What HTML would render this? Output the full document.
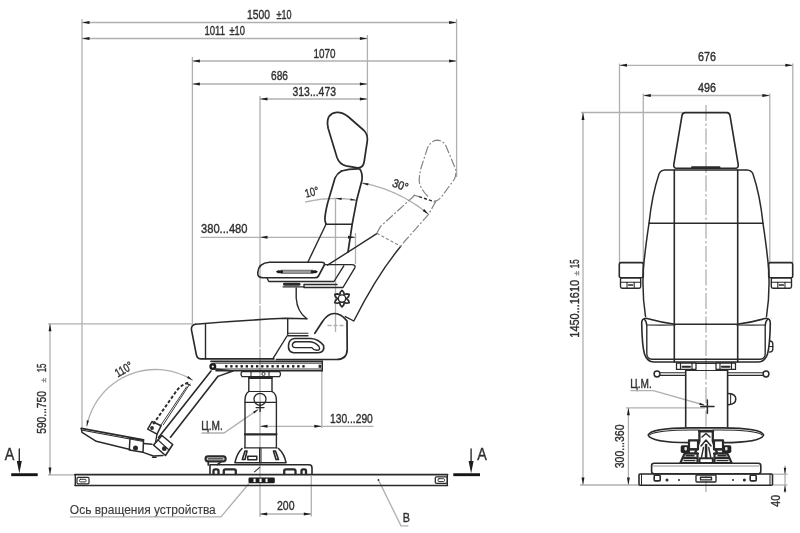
<!DOCTYPE html>
<html><head><meta charset="utf-8"><title>Chair drawing</title>
<style>
html,body{margin:0;padding:0;background:#fff;}
body{width:800px;height:533px;overflow:hidden;font-family:"Liberation Sans",sans-serif;}
svg{display:block;}
svg text{font-family:"Liberation Sans",sans-serif;fill:#303030;stroke:#303030;stroke-width:0.38;}
.d{stroke:#2a2a2a;stroke-width:1.4;fill:none;stroke-linecap:round;stroke-linejoin:round;}
.dd{stroke:#2a2a2a;stroke-width:1.4;fill:none;stroke-dasharray:3.2 2;}
.t{stroke:#b0b0b0;stroke-width:1.3;fill:none;}
.ph{stroke:#858585;stroke-width:1.2;fill:none;stroke-dasharray:9 2 2 2;}
.ar{fill:#1e1e1e;stroke:none;}
</style></head>
<body>
<svg width="800" height="533" viewBox="0 0 800 533">
<rect x="0" y="0" width="800" height="533" fill="#ffffff"/>
<g filter="url(#soft)">
<g id="dimsL">
<line class="t" x1="82" y1="19" x2="82" y2="428.5" />
<line class="t" x1="456.6" y1="19" x2="456.6" y2="177" />
<line class="t" x1="367.4" y1="35" x2="367.4" y2="136" />
<line class="t" x1="192.4" y1="57" x2="192.4" y2="324" />
<line class="t" x1="260" y1="96" x2="260" y2="262" />
<line style="stroke-dasharray:42 1.5" class="t" x1="260" y1="262" x2="260" y2="517"/>
<line class="t" x1="82" y1="22.5" x2="456.6" y2="22.5" />
<polygon class="ar" points="82.00,22.50 89.50,21.05 89.50,23.95"/>
<polygon class="ar" points="456.60,22.50 449.10,23.95 449.10,21.05"/>
<text x="247" y="18.7" font-size="13" text-anchor="start" textLength="23" lengthAdjust="spacingAndGlyphs" >1500</text>
<text x="276.5" y="18.7" font-size="13" text-anchor="start" textLength="15" lengthAdjust="spacingAndGlyphs" >±10</text>
<line class="t" x1="82" y1="38.5" x2="367.4" y2="38.5" />
<polygon class="ar" points="82.00,38.50 89.50,37.05 89.50,39.95"/>
<polygon class="ar" points="367.40,38.50 359.90,39.95 359.90,37.05"/>
<text x="204.5" y="35.0" font-size="13" text-anchor="start" textLength="20.5" lengthAdjust="spacingAndGlyphs" >1011</text>
<text x="229.5" y="35.0" font-size="13" text-anchor="start" textLength="15.5" lengthAdjust="spacingAndGlyphs" >±10</text>
<line class="t" x1="192.4" y1="61" x2="456.6" y2="61" />
<polygon class="ar" points="192.40,61.00 199.90,59.55 199.90,62.45"/>
<polygon class="ar" points="456.60,61.00 449.10,62.45 449.10,59.55"/>
<text x="313.5" y="57.5" font-size="13" text-anchor="start" textLength="22" lengthAdjust="spacingAndGlyphs" >1070</text>
<line class="t" x1="192.4" y1="84" x2="367.4" y2="84" />
<polygon class="ar" points="192.40,84.00 199.90,82.55 199.90,85.45"/>
<polygon class="ar" points="367.40,84.00 359.90,85.45 359.90,82.55"/>
<text x="271" y="80.4" font-size="13" text-anchor="start" textLength="17" lengthAdjust="spacingAndGlyphs" >686</text>
<line class="t" x1="260" y1="99" x2="367.4" y2="99" />
<polygon class="ar" points="260.00,99.00 267.50,97.55 267.50,100.45"/>
<polygon class="ar" points="367.40,99.00 359.90,100.45 359.90,97.55"/>
<text x="292.5" y="96.2" font-size="13" text-anchor="start" textLength="43.5" lengthAdjust="spacingAndGlyphs" >313...473</text>
<line class="t" x1="200.5" y1="237.3" x2="355.5" y2="237.3" />
<polygon class="ar" points="260.00,237.30 267.50,235.85 267.50,238.75"/>
<polygon class="ar" points="355.50,237.30 348.00,238.75 348.00,235.85"/>
<text x="201" y="233.4" font-size="13" text-anchor="start" textLength="46.5" lengthAdjust="spacingAndGlyphs" >380...480</text>
<line class="t" x1="335.5" y1="199" x2="335.5" y2="332" />
<line class="t" x1="355.5" y1="233" x2="355.5" y2="264" />
<path class="t" d="M305.00 202.22 L307.11 201.71 L309.23 201.25 L311.36 200.82 L313.49 200.42 L315.64 200.06 L317.78 199.74 L319.93 199.46 L322.09 199.21 L324.25 199.00 L326.42 198.83 L328.58 198.69 L330.75 198.59 L332.92 198.53 L335.09 198.50 L337.26 198.51 L339.43 198.56 L341.60 198.65 L343.77 198.77 L345.93 198.93 L348.10 199.13 L350.25 199.36 L352.41 199.63 L354.56 199.94 L356.70 200.28" />
<polygon class="ar" points="335.60,198.60 341.63,197.71 341.56,199.91"/>
<polygon class="ar" points="356.40,200.30 350.31,200.55 350.61,198.38"/>
<text x="306" y="197.8" font-size="12" text-anchor="start" textLength="14" lengthAdjust="spacingAndGlyphs" transform="rotate(-14 306 197.8)" >10°</text>
<path class="t" d="M361.77 182.90 L364.81 183.49 L367.84 184.15 L370.86 184.88 L373.86 185.67 L376.84 186.52 L379.81 187.44 L382.75 188.41 L385.67 189.46 L388.57 190.56 L391.45 191.73 L394.29 192.95 L397.12 194.24 L399.91 195.59 L402.67 197.00 L405.41 198.46 L408.11 199.99 L410.78 201.57 L413.41 203.21 L416.01 204.90 L418.57 206.65 L421.09 208.46 L423.58 210.32 L426.02 212.23 L428.42 214.19" />
<polygon class="ar" points="361.90,183.20 368.51,183.20 368.08,185.56"/>
<polygon class="ar" points="428.42,214.19 422.67,210.95 424.20,209.10"/>
<text x="391.5" y="186.2" font-size="12" text-anchor="start" textLength="16" lengthAdjust="spacingAndGlyphs" transform="rotate(20 391.5 186.2)" >30°</text>
<line class="t" x1="48" y1="323.8" x2="192.4" y2="323.8" />
<line class="t" x1="48" y1="474.9" x2="75" y2="474.9" />
<line class="t" x1="50" y1="323.8" x2="50" y2="474.9" />
<polygon class="ar" points="50.00,323.80 51.45,331.30 48.55,331.30"/>
<polygon class="ar" points="50.00,474.90 48.55,467.40 51.45,467.40"/>
<text x="45.7" y="433.8" font-size="13" text-anchor="start" textLength="42.8" lengthAdjust="spacingAndGlyphs" transform="rotate(-90 45.7 433.8)" >590...750</text>
<text x="45.7" y="382.5" font-size="8" text-anchor="start" textLength="4.5" lengthAdjust="spacingAndGlyphs" transform="rotate(-90 45.7 382.5)" style="fill:#888;stroke:#888">±</text>
<text x="45.7" y="372.3" font-size="13" text-anchor="start" textLength="8.8" lengthAdjust="spacingAndGlyphs" transform="rotate(-90 45.7 372.3)" >15</text>
<path class="t" d="M86.73 426.45 L88.01 420.93 L89.73 415.53 L91.89 410.29 L94.46 405.23 L97.43 400.41 L100.79 395.84 L104.50 391.56 L108.54 387.59 L112.90 383.96 L117.53 380.69 L122.41 377.81 L127.51 375.34 L132.79 373.28 L138.23 371.66 L143.77 370.49 L149.39 369.77 L155.05 369.50 L160.72 369.69 L166.35 370.35 L171.91 371.45 L177.36 373.00 L182.67 374.99 L187.80 377.40 L192.72 380.21" />
<polygon class="ar" points="86.73,426.45 86.77,420.35 88.93,420.76"/>
<polygon class="ar" points="192.72,380.21 187.05,377.96 188.22,376.09"/>
<text x="117.8" y="377.5" font-size="12" text-anchor="start" textLength="18.5" lengthAdjust="spacingAndGlyphs" transform="rotate(-30 117.8 377.5)" >110°</text>
<line class="t" x1="260" y1="426.3" x2="373.5" y2="426.3" />
<polygon class="ar" points="260.00,426.30 267.50,424.85 267.50,427.75"/>
<polygon class="ar" points="321.80,426.30 314.30,427.75 314.30,424.85"/>
<line class="t" x1="321.8" y1="371" x2="321.8" y2="428" />
<text x="330" y="422.6" font-size="13" text-anchor="start" textLength="42.8" lengthAdjust="spacingAndGlyphs" >130...290</text>
<line class="t" x1="259.7" y1="514" x2="311.3" y2="514" />
<polygon class="ar" points="259.70,514.00 267.20,512.55 267.20,515.45"/>
<polygon class="ar" points="311.30,514.00 303.80,515.45 303.80,512.55"/>
<line class="t" x1="311.3" y1="476" x2="311.3" y2="516.5" />
<text x="277" y="510.0" font-size="13" text-anchor="start" textLength="17.5" lengthAdjust="spacingAndGlyphs" >200</text>
<text x="201.3" y="429.8" font-size="13" text-anchor="start" textLength="21.5" lengthAdjust="spacingAndGlyphs" >Ц.М.</text>
<path class="t" d="M201.5 433 L224 433 L258 409.6" />
<polygon class="ar" points="258.60,409.20 254.32,413.54 253.05,411.74"/>
<line style="stroke-width:1.38" class="d" x1="256.2" y1="407.6" x2="264" y2="407.6"/>
<line style="stroke-width:1.38" class="d" x1="260.1" y1="403.8" x2="260.1" y2="411.5"/>
<text x="69.8" y="513.5" font-size="12.5" text-anchor="start" textLength="146" lengthAdjust="spacingAndGlyphs" style="stroke-width:0.12;fill:#3a3a3a">Ось вращения устройства</text>
<path class="t" d="M69.8 516.8 L221 516.8 L249 483.5" />
<path class="t" d="M378.4 479.9 L401 525.8 L408.5 525.8" />
<circle cx="378.4" cy="479.9" r="0.9" fill="#2a2a2a"/>
<text x="402.8" y="522.2" font-size="13" text-anchor="start" textLength="7.2" lengthAdjust="spacingAndGlyphs" >B</text>
<text x="4.8" y="460.2" font-size="16" text-anchor="start" textLength="9.6" lengthAdjust="spacingAndGlyphs" >A</text>
<line style="stroke-width:2.88;stroke:#161616;stroke-linecap:butt" class="d" x1="11.2" y1="474.7" x2="37.7" y2="474.7"/>
<line style="stroke-width:1.38" class="d" x1="19.3" y1="449" x2="19.3" y2="465"/>
<polygon class="ar" points="19.30,473.40 16.80,460.90 21.80,460.90"/>
<text x="477.2" y="460.2" font-size="16" text-anchor="start" textLength="9.6" lengthAdjust="spacingAndGlyphs" >A</text>
<line style="stroke-width:2.88;stroke:#161616;stroke-linecap:butt" class="d" x1="453.3" y1="474.7" x2="480" y2="474.7"/>
<line style="stroke-width:1.38" class="d" x1="471.1" y1="449" x2="471.1" y2="465"/>
<polygon class="ar" points="471.10,473.40 468.60,460.90 473.60,460.90"/>
</g>
<g id="chairL">
<path style="stroke-width:1.72" class="d" d="M327.5 124 Q327 113.5 336.5 112.3 Q342.5 112 348 116.5 L364 130.5 Q368 134.5 367.3 141 L364.2 161.5 Q363.2 168.2 357.5 167.8 L346 165.8 Q339.5 164.5 337 157.5 L328.2 128.5 Z"/>
<path style="stroke-width:1.72" class="d" d="M341.5 171 Q350 168.6 359.8 169 Q362.6 173 362 180 L356.8 199.8 L352.2 224.2 L348 252"/>
<path style="stroke-width:1.72" class="d" d="M341.5 171 Q337 173.5 335 178 L327.5 203.5 Q324.5 216 325 220.5 L326 224.2"/>
<line class="d" x1="326" y1="224.2" x2="352.2" y2="224.2" />
<line class="d" x1="326" y1="224.2" x2="307.8" y2="262.3" />
<line class="d" x1="377.2" y1="233.4" x2="327.5" y2="265.2" />
<path class="d" d="M400.6 246.5 Q377 275 353.8 321 L345.3 316.6" />
<path class="ph" d="M415 195 L380.5 226.5 L376.8 233.3" />
<path class="ph" d="M436 201 L428.5 214.5 L404.5 241.5 L400.6 246.5" />
<line style="stroke:#8a8a8a;stroke-width:1.15" class="dd" x1="376.8" y1="233.3" x2="400.7" y2="246.2"/>
<line class="ph" x1="413.5" y1="195" x2="419" y2="196.6" />
<line class="dd" x1="419" y1="196.6" x2="434.5" y2="201.8" />
<path class="ph" d="M428 196.5 Q421 190 419.3 182 Q419 176 421 168 L427.5 148 Q431 140.5 437 140.2 Q443 140.5 446 146 L455.7 169.5 Q456.5 174.5 454.5 179 L441 197.5 Q437.5 201.5 434 201" />
<path style="stroke-width:1.61" class="d" d="M257.8 272.5 Q258.5 263 269.5 262.3 L321.5 262.3 Q325.5 262.3 324.3 265 L318.5 276 Q317.6 277.8 315 277.8 L263 277.8 Q257 277.5 257.8 272.5 Z"/>
<path class="d" d="M267 278 L268.8 281.5 L334 281.5 L343.8 265.8" />
<line style="stroke-width:3.45;stroke:#9c9c9c;stroke-linecap:butt" class="d" x1="281" y1="271.8" x2="313" y2="271.8"/>
<line style="stroke-width:0.69;stroke:#555" class="d" x1="281" y1="270.2" x2="313" y2="270.2"/>
<line style="stroke-width:0.69;stroke:#555" class="d" x1="281" y1="273.4" x2="313" y2="273.4"/>
<polygon class="ar" points="275.8,271.8 278,270.3 283,270.6 283,273 278,273.3"/>
<polygon class="ar" points="318,271.8 315.8,270.3 310.8,270.6 310.8,273 315.8,273.3"/>
<path class="d" d="M324.5 264.6 L351.5 264.6 Q356.2 264.8 354.8 267.8 L343 287.5 L304 287.5 L304 284.5 L337 284.5" />
<line style="stroke-width:2.99;stroke-linecap:round" class="d" x1="284.5" y1="284.3" x2="299" y2="284.3"/>
<line style="stroke-width:1.15" class="d" x1="283" y1="286.8" x2="304" y2="286.8"/>
<path class="d" d="M296.2 288 L296.2 298 Q297 311.5 306.8 318.8" />
<path style="stroke-width:1.72" class="d" d="M342.0 290.3 L343.71 292.22 L344.25 294.7 L346.67 293.93 L349.19 294.45 L348.38 296.89 L346.5 298.6 L348.38 300.31 L349.19 302.75 L346.67 303.27 L344.25 302.5 L343.71 304.98 L342.0 306.9 L340.29 304.98 L339.75 302.5 L337.33 303.27 L334.81 302.75 L335.62 300.31 L337.5 298.6 L335.62 296.89 L334.81 294.45 L337.33 293.93 L339.75 294.7 L340.29 292.22 Z"/>
<circle style="stroke-width:1.38" class="d" cx="342" cy="298.6" r="3.7"/>
<path style="stroke-width:1.61" class="d" d="M195.5 324.2 Q240 320.5 285 318.3 L306.8 318.8"/>
<path style="stroke-width:1.61" class="d" d="M195.5 324.2 Q191.3 324.8 191.4 329.5 L196.3 354.5 Q197 358.6 200.5 358.9 L274 358.9"/>
<line class="d" x1="205.5" y1="323.6" x2="205.5" y2="358.9" />
<line class="d" x1="287.7" y1="318.5" x2="287.7" y2="334.6" />
<line class="d" x1="287.7" y1="335.8" x2="308" y2="335.8" />
<line class="d" x1="287" y1="336" x2="272.8" y2="358.8" />
<line style="stroke-width:1.03" class="d" x1="287.7" y1="333.3" x2="308" y2="333.3"/>
<path style="stroke-width:1.72" class="d" d="M314.8 333.3 L322.5 321.5 Q328 313.3 334.5 313.5 Q341.5 313.8 347 321 L347.2 349.5 Q347 359.5 336.5 359.5 L276.5 359.5"/>
<path style="stroke-width:1.61" class="d" d="M294.5 338.5 L311 338.5 Q318.5 339 323.6 345.5 Q325 352.5 318 352.8 L293.5 352.8 Q288 352 288.5 345.3 Q289 339 294.5 338.5 Z"/>
<path style="stroke-width:1.38" class="d" d="M296 341.8 L310 341.8 Q315.5 342.3 319 346.5 Q320.8 350.3 316.8 350.3 Q313.5 350 311.8 347.6 L295.5 347.6 Q292 347.2 292.4 344.6 Q293 342 296 341.8 Z"/>
<line style="stroke-dasharray:4 2" class="t" x1="327.5" y1="325.5" x2="343.5" y2="325.5"/>
<line style="stroke-width:1.72" class="d" x1="211" y1="361.3" x2="322.3" y2="361.3"/>
<line style="stroke-width:0.92" class="d" x1="214" y1="363.2" x2="322.3" y2="363.2"/>
<line style="stroke-width:0.92" class="d" x1="216" y1="369" x2="322.3" y2="369"/>
<line style="stroke-width:1.61" class="d" x1="216" y1="370.8" x2="322.3" y2="370.8"/>
<line class="d" x1="322.3" y1="361.3" x2="322.3" y2="370.8" />
<rect x="225.10" y="365.1" width="2.3" height="2.4" fill="#1c1c1c"/>
<rect x="230.25" y="365.1" width="2.3" height="2.4" fill="#1c1c1c"/>
<rect x="235.40" y="365.1" width="2.3" height="2.4" fill="#1c1c1c"/>
<rect x="240.55" y="365.1" width="2.3" height="2.4" fill="#1c1c1c"/>
<rect x="245.70" y="365.1" width="2.3" height="2.4" fill="#1c1c1c"/>
<rect x="250.85" y="365.1" width="2.3" height="2.4" fill="#1c1c1c"/>
<rect x="256.00" y="365.1" width="2.3" height="2.4" fill="#1c1c1c"/>
<rect x="261.15" y="365.1" width="2.3" height="2.4" fill="#1c1c1c"/>
<rect x="266.30" y="365.1" width="2.3" height="2.4" fill="#1c1c1c"/>
<rect x="271.45" y="365.1" width="2.3" height="2.4" fill="#1c1c1c"/>
<rect x="276.60" y="365.1" width="2.3" height="2.4" fill="#1c1c1c"/>
<rect x="281.75" y="365.1" width="2.3" height="2.4" fill="#1c1c1c"/>
<rect x="286.90" y="365.1" width="2.3" height="2.4" fill="#1c1c1c"/>
<rect x="292.05" y="365.1" width="2.3" height="2.4" fill="#1c1c1c"/>
<rect x="297.20" y="365.1" width="2.3" height="2.4" fill="#1c1c1c"/>
<rect x="302.35" y="365.1" width="2.3" height="2.4" fill="#1c1c1c"/>
<rect x="318.6" y="364.8" width="2.8" height="3" fill="#2a2a2a"/>
<circle cx="212.8" cy="366.6" r="2.3" fill="#fff" stroke="#1c1c1c" stroke-width="2.4"/>
<path class="d" d="M218 376.3 L233 371 M214.5 369 L233 371" />
<path style="stroke-width:1.26" class="d" d="M242 371.5 L279.5 371.5 Q281.5 374 279.5 376.6 L242 376.6 Q240 374 242 371.5 Z"/>
<line style="stroke-width:1.03" class="d" x1="251" y1="371.5" x2="251" y2="376.6"/>
<line style="stroke-width:1.03" class="d" x1="269" y1="371.5" x2="269" y2="376.6"/>
<circle cx="263.5" cy="374" r="1.6" fill="none" stroke="#2a2a2a" stroke-width="0.9"/>
<line style="stroke-width:1.61" class="d" x1="211" y1="371" x2="158.5" y2="437.5"/>
<line style="stroke-width:1.61" class="d" x1="218" y1="376.3" x2="170.5" y2="437.2"/>
<path style="stroke-width:1.95" class="dd" d="M188.3 382.6 Q179.5 385.5 175 393 L153 424.5"/>
<line style="stroke-width:0.92" class="d" x1="189.8" y1="384" x2="163.3" y2="424.8"/>
<line style="stroke-width:0.92" class="d" x1="186.6" y1="386.8" x2="160.2" y2="426.2"/>
<line style="stroke-width:1.03" class="d" x1="186" y1="383.5" x2="190.5" y2="385.3"/>
<path style="stroke-width:1.49" class="d" d="M147.7 429.1 L152 421.5 L161.2 425.7 L157 434.2 Z"/>
<circle cx="152" cy="428" r="1.9" fill="#2a2a2a"/>
<path style="stroke-width:1.61" class="d" d="M153.5 445 L162 435.5 L172.7 444.5 L165.5 455.5 Z"/>
<line style="stroke-width:1.03" class="d" x1="158" y1="440" x2="168.5" y2="449.5"/>
<circle cx="164.3" cy="448.7" r="2.4" fill="#2a2a2a"/>
<line class="d" x1="157" y1="434.2" x2="155.5" y2="442.5" />
<path style="stroke-width:1.72" class="d" d="M81.3 428.4 L143.5 439.8"/>
<path style="stroke-width:1.03" class="d" d="M82.5 430.3 L143.5 441.4"/>
<path style="stroke-width:1.49" class="d" d="M81.3 428.4 L82 432.3 L96.3 441.3 L130 449.5"/>
<path style="stroke-width:1.49" class="d" d="M130 438 L143.5 440.3 L143 452.3 L129.3 450 Z"/>
<circle cx="135.5" cy="448" r="2.5" fill="#2a2a2a"/>
<path class="d" d="M143 452.3 L153.5 456 L163 455.5 M143.5 443.5 L152 444.3" />
<line style="stroke-width:1.61" class="d" x1="152.5" y1="457.2" x2="156" y2="457.2"/>
<line style="stroke-width:2.53" class="d" x1="249.5" y1="377.8" x2="271.5" y2="377.8"/>
<line class="d" x1="248.8" y1="377.5" x2="248.8" y2="391.5" />
<line class="d" x1="272" y1="377.5" x2="272" y2="391.5" />
<path class="d" d="M248.8 391.5 Q245 394 245 400 L245 447.8 M272 391.5 Q276.4 394 276.4 400 L276.4 447.8" />
<line style="stroke-width:1.03" class="d" x1="248.8" y1="391.5" x2="272" y2="391.5"/>
<line style="stroke-width:1.15" class="d" x1="245" y1="402.3" x2="276.4" y2="402.3"/>
<circle style="stroke-width:1.26" class="d" cx="260" cy="399.3" r="6"/>
<line style="stroke-width:2.30" class="d" x1="245" y1="434.3" x2="276.4" y2="434.3"/>
<line style="stroke-width:1.26" class="d" x1="244.5" y1="447.8" x2="277" y2="447.8"/>
<path style="stroke-width:1.61" class="d" d="M242 448.5 Q236.5 454 235 462.7 L286 462.7 Q284.5 454 278.5 448.5"/>
<line style="stroke-width:1.03" class="d" x1="259.5" y1="448" x2="259.5" y2="462.7"/>
<line style="stroke-width:1.03" class="d" x1="261" y1="448" x2="261" y2="462.7"/>
<path style="stroke-width:1.61" class="d" d="M245 451 L247 451 L245 459.5 L242.3 459.5 Z"/>
<path style="stroke-width:1.49" class="d" d="M247.8 456.2 L256.8 456.2 L256.8 459.7 L247.8 459.7 Z"/>
<path style="stroke-width:1.61" class="d" d="M273.5 451 L275.5 451 L278.5 459.5 L276 459.5 Z"/>
<rect style="stroke-width:2.18" class="d" x="205.6" y="456.4" width="20" height="4.9" rx="2.4"/>
<line style="stroke-width:1.15" class="d" x1="208" y1="458.9" x2="223" y2="458.9"/>
<path style="stroke-width:1.72" class="d" d="M208.3 461.3 L208.3 465 M221.5 461.3 L217.5 464.6"/>
<path style="stroke-width:1.61" class="d" d="M210 474 L210 464.7 L309 464.7 Q312 464.7 312 468 L312 474"/>
<path style="stroke-width:2.30" class="d" d="M213.5 474 L213.5 471 Q213.5 469.3 215.1 469.3 L216.9 469.3 Q218.5 469.3 218.5 471 L218.5 474"/>
<path style="stroke-width:2.30" class="d" d="M223.8 474 L223.8 471 Q223.8 469.3 225.4 469.3 L234.20000000000002 469.3 Q235.8 469.3 235.8 471 L235.8 474"/>
<path style="stroke-width:2.30" class="d" d="M284.2 474 L284.2 471 Q284.2 469.3 285.8 469.3 L293.9 469.3 Q295.5 469.3 295.5 471 L295.5 474"/>
<path style="stroke-width:2.30" class="d" d="M301.5 474 L301.5 471 Q301.5 469.3 303.1 469.3 L304.4 469.3 Q306 469.3 306 471 L306 474"/>
<line style="stroke-width:1.03" class="d" x1="254.5" y1="471.8" x2="259.7" y2="467.3"/>
<line style="stroke-width:1.95" class="d" x1="75" y1="474.6" x2="447.5" y2="474.6"/>
<line style="stroke-width:1.49" class="d" x1="75" y1="485.6" x2="447.5" y2="485.6"/>
<line class="d" x1="75.3" y1="474.6" x2="75.3" y2="485.6" />
<line class="d" x1="447.3" y1="474.6" x2="447.3" y2="485.6" />
<rect style="stroke-width:1.26" class="d" x="77" y="477.3" width="12" height="6.6" rx="1.2"/>
<rect style="stroke-width:0.92" class="d" x="79.5" y="479.3" width="6.5" height="2.6" rx="1"/>
<rect style="stroke-width:1.26" class="d" x="435.3" y="476.8" width="12" height="6.6" rx="1.2"/>
<rect style="stroke-width:0.92" class="d" x="438" y="478.7" width="6.5" height="2.8" rx="1"/>
<rect x="248.5" y="477.6" width="26.3" height="5.6" rx="1.2" fill="#1c1c1c"/>
<rect x="253.5" y="478.7" width="2.1" height="3.4" fill="#fff"/>
<rect x="259.5" y="478.7" width="2.1" height="3.4" fill="#fff"/>
<rect x="265.5" y="478.7" width="2.1" height="3.4" fill="#fff"/>
</g>
<g id="dimsR">
<line class="t" x1="619.5" y1="63.5" x2="619.5" y2="262.5" />
<line class="t" x1="792.8" y1="63.5" x2="792.8" y2="262.5" />
<line class="t" x1="643.3" y1="93.5" x2="643.3" y2="262.5" />
<line class="t" x1="769.8" y1="93.5" x2="769.8" y2="262.5" />
<line class="t" x1="619.5" y1="65.3" x2="792.8" y2="65.3" />
<polygon class="ar" points="619.50,65.30 627.00,63.85 627.00,66.75"/>
<polygon class="ar" points="792.80,65.30 785.30,66.75 785.30,63.85"/>
<text x="698" y="61.4" font-size="13" text-anchor="start" textLength="18" lengthAdjust="spacingAndGlyphs" >676</text>
<line class="t" x1="643.3" y1="95.5" x2="769.8" y2="95.5" />
<polygon class="ar" points="643.30,95.50 650.80,94.05 650.80,96.95"/>
<polygon class="ar" points="769.80,95.50 762.30,96.95 762.30,94.05"/>
<text x="698" y="91.9" font-size="13" text-anchor="start" textLength="18" lengthAdjust="spacingAndGlyphs" >496</text>
<line style="stroke-dasharray:16 2.5 2.5 2.5" class="t" x1="706.0" y1="105" x2="706.0" y2="492"/>
<line class="t" x1="581" y1="112.5" x2="683" y2="112.5" />
<line class="t" x1="580" y1="485" x2="639" y2="485" />
<line class="t" x1="583" y1="112.5" x2="583" y2="485" />
<polygon class="ar" points="583.00,112.50 584.45,120.00 581.55,120.00"/>
<polygon class="ar" points="583.00,485.00 581.55,477.50 584.45,477.50"/>
<text x="579.3" y="337.7" font-size="13" text-anchor="start" textLength="57.8" lengthAdjust="spacingAndGlyphs" transform="rotate(-90 579.3 337.7)" >1450...1610</text>
<text x="579.3" y="275.5" font-size="8" text-anchor="start" textLength="4.5" lengthAdjust="spacingAndGlyphs" transform="rotate(-90 579.3 275.5)" style="fill:#888;stroke:#888">±</text>
<text x="579.3" y="268.2" font-size="13" text-anchor="start" textLength="8.8" lengthAdjust="spacingAndGlyphs" transform="rotate(-90 579.3 268.2)" >15</text>
<line class="t" x1="626" y1="407.8" x2="705" y2="407.8" />
<line class="t" x1="628.4" y1="407.8" x2="628.4" y2="485" />
<polygon class="ar" points="628.40,407.80 629.85,415.30 626.95,415.30"/>
<polygon class="ar" points="628.40,485.00 626.95,477.50 629.85,477.50"/>
<text x="623.8" y="468.3" font-size="13" text-anchor="start" textLength="43.8" lengthAdjust="spacingAndGlyphs" transform="rotate(-90 623.8 468.3)" >300...360</text>
<line class="t" x1="772.7" y1="474.2" x2="787.5" y2="474.2" />
<line class="t" x1="772.7" y1="485" x2="787.5" y2="485" />
<line class="t" x1="785" y1="465.5" x2="785" y2="493" />
<polygon class="ar" points="785.00,474.20 783.80,467.70 786.20,467.70"/>
<polygon class="ar" points="785.00,485.00 786.20,491.50 783.80,491.50"/>
<text x="780.5" y="506.7" font-size="13" text-anchor="start" textLength="11.7" lengthAdjust="spacingAndGlyphs" transform="rotate(-90 780.5 506.7)" >40</text>
<text x="630.3" y="387.8" font-size="13" text-anchor="start" textLength="21.5" lengthAdjust="spacingAndGlyphs" >Ц.М.</text>
<path class="t" d="M630.4 390.6 L653.4 390.6 L704 405" />
<polygon class="ar" points="705.30,405.40 699.23,404.80 699.84,402.69"/>
<line style="stroke-width:1.49" class="d" x1="700.8" y1="406.6" x2="714" y2="406.6"/>
<line style="stroke-width:1.49" class="d" x1="707.4" y1="400" x2="707.4" y2="413.2"/>
</g>
<g id="chairR">
<path style="stroke-width:1.61" class="d" d="M685.0 112.6 L727.0 112.6 Q729.5 112.8 730.0 115.5 L738.2 164.5 Q738.6 168 736.0 168.2 L676.0 168.2 Q673.4 168 673.8 164.5 L682.0 115.5 Q682.5 112.8 685.0 112.6 Z"/>
<line style="stroke-width:2.07" class="d" x1="692" y1="167.2" x2="719.5" y2="167.2"/>
<path style="stroke-width:1.49" class="d" d="M706.0 170 L665.0 170 Q660.5 170.3 659.0 174 Q652.0 195 649.0 223.3 Q645.0 250 643.3 269.5 Q642.0 295 645.5 316.5"/>
<line style="stroke-width:1.61" class="d" x1="674.3" y1="170" x2="674.3" y2="362"/>
<path style="stroke-width:1.49" class="d" d="M706.0 170 L747.0 170 Q751.5 170.3 753.0 174 Q760.0 195 763.0 223.3 Q767.0 250 768.7 269.5 Q770.0 295 766.5 316.5"/>
<line style="stroke-width:1.61" class="d" x1="737.7" y1="170" x2="737.7" y2="362"/>
<line class="d" x1="649" y1="223.3" x2="763" y2="223.3" />
<rect style="stroke-width:1.61" class="d" x="619.3" y="262.6" width="24" height="15.2" rx="1.6"/>
<rect style="stroke-width:1.38" class="d" x="620.5" y="277.8" width="20.2" height="10.4" rx="1.6"/>
<line style="stroke-width:1.03" class="d" x1="620.5" y1="282.3" x2="640.7" y2="282.3"/>
<line style="stroke-width:1.03" class="d" x1="627.0" y1="282.3" x2="627.0" y2="288"/>
<line style="stroke-width:1.03" class="d" x1="634.2" y1="282.3" x2="634.2" y2="288"/>
<line style="stroke-width:1.49" class="d" x1="628.5" y1="285" x2="632.7" y2="285"/>
<rect style="stroke-width:1.61" class="d" x="768.7" y="262.6" width="24" height="15.2" rx="1.6"/>
<rect style="stroke-width:1.38" class="d" x="771.3" y="277.8" width="20.2" height="10.4" rx="1.6"/>
<line style="stroke-width:1.03" class="d" x1="771.3" y1="282.3" x2="791.5" y2="282.3"/>
<line style="stroke-width:1.03" class="d" x1="777.8" y1="282.3" x2="777.8" y2="288"/>
<line style="stroke-width:1.03" class="d" x1="785.0" y1="282.3" x2="785.0" y2="288"/>
<line style="stroke-width:1.49" class="d" x1="779.3" y1="285" x2="783.5" y2="285"/>
<path style="stroke-width:1.61" class="d" d="M706.0 324.2 L675.0 324.2 Q661.0 322.5 646.0 318.3 Q641.7 318.5 641.7 323 Q642.0 345 644.5 354 Q647.0 361.8 654.0 362 L706.0 362"/>
<path style="stroke-width:1.38" class="d" d="M644.5 319.5 Q646.8 321.5 646.8 326 L646.8 354 Q647.0 359 652.0 359.2 L706.0 359.2"/>
<path style="stroke-width:1.15" class="d" d="M646.8 325 Q661.0 325.3 675.0 325"/>
<path style="stroke-width:1.61" class="d" d="M706.0 324.2 L737.0 324.2 Q751.0 322.5 766.0 318.3 Q770.3 318.5 770.3 323 Q770.0 345 767.5 354 Q765.0 361.8 758.0 362 L706.0 362"/>
<path style="stroke-width:1.38" class="d" d="M767.5 319.5 Q765.2 321.5 765.2 326 L765.2 354 Q765.0 359 760.0 359.2 L706.0 359.2"/>
<path style="stroke-width:1.15" class="d" d="M765.2 325 Q751.0 325.3 737.0 325"/>
<path style="stroke-width:1.38" class="d" d="M769.5 341 Q772.8 341 772.8 344 L772.8 349 Q772.8 352 769.5 352"/>
<line style="stroke-width:1.03" class="d" x1="769.5" y1="346.5" x2="772.8" y2="346.5"/>
<rect style="stroke-width:1.26" class="d" x="676.5" y="363" width="19.5" height="6.4"/>
<line style="stroke-width:1.15" class="d" x1="680.5" y1="363" x2="680.5" y2="369.4"/>
<line style="stroke-width:1.15" class="d" x1="692.0" y1="363" x2="692.0" y2="369.4"/>
<line style="stroke-width:2.07" class="d" x1="682.5" y1="366.8" x2="690.0" y2="366.8"/>
<rect style="stroke-width:1.26" class="d" x="716.0" y="363" width="19.5" height="6.4"/>
<line style="stroke-width:1.15" class="d" x1="720.0" y1="363" x2="720.0" y2="369.4"/>
<line style="stroke-width:1.15" class="d" x1="731.5" y1="363" x2="731.5" y2="369.4"/>
<line style="stroke-width:2.07" class="d" x1="722.0" y1="366.8" x2="729.5" y2="366.8"/>
<line style="stroke-width:1.03" class="d" x1="696" y1="363.6" x2="716" y2="363.6"/>
<line style="stroke-width:1.15" class="d" x1="660" y1="372.7" x2="685.5" y2="372.7"/>
<line style="stroke-width:1.15" class="d" x1="660" y1="375.4" x2="685.5" y2="375.4"/>
<line style="stroke-width:1.15" class="d" x1="728" y1="372.7" x2="763" y2="372.7"/>
<line style="stroke-width:1.15" class="d" x1="728" y1="375.4" x2="763" y2="375.4"/>
<circle style="stroke-width:1.49" class="d" cx="657" cy="374" r="2.9"/>
<circle style="stroke-width:1.49" class="d" cx="766" cy="374" r="2.9"/>
<line style="stroke-width:1.61" class="d" x1="685.7" y1="370" x2="685.7" y2="427"/>
<line style="stroke-width:1.61" class="d" x1="727.6" y1="370" x2="727.6" y2="427"/>
<line style="stroke-width:1.15" class="d" x1="685.7" y1="370.5" x2="727.6" y2="370.5"/>
<path style="stroke-width:1.49" class="d" d="M728.6 393.5 Q735.8 394 735.8 399 Q735.8 404 728.6 404.8"/>
<line style="stroke-width:1.03" class="d" x1="730.6" y1="394" x2="730.6" y2="404.4"/>
<path style="stroke-width:1.72" class="d" d="M648.2 435 C650 430.5 662 428 690 427.9 L722 427.9 C750 428 762 430.5 763.6 435 C762 440 750 442.6 722 442.7 L690 442.7 C662 442.6 650 440 648.2 435 Z"/>
<path style="stroke-width:1.03" class="d" d="M650 434.7 C654 431.6 668 430 692 429.9 L720 429.9 C744 430 758 431.6 761.8 434.7"/>
<rect x="699" y="429.5" width="14" height="33" fill="#fff" stroke="none"/>
<path style="stroke-width:2.30" class="d" d="M699.4 430.8 L699.4 441 L695.5 452 L695 463 M712.8 430.8 L712.8 441 L716.7 452 L717.2 463"/>
<line style="stroke-width:2.53" class="d" x1="699.4" y1="431.2" x2="712.8" y2="431.2"/>
<path style="stroke-width:1.49" class="d" d="M702 437 L706 433.5 L710 437 M701 446 L706 440 L711 446"/>
<line style="stroke-width:2.53" class="d" x1="706.1" y1="445" x2="706.1" y2="457.5"/>
<path style="stroke-width:1.38" class="d" d="M701.5 457 L703.5 447.5 M710.7 457 L708.7 447.5"/>
<rect style="stroke-width:1.95;fill:#fff" class="d" x="699.5" y="458.3" width="13.3" height="4.8"/>
<rect style="stroke-width:2.18;fill:#fff" class="d" x="689.0" y="440.3" width="9" height="9"/>
<rect x="680.7" y="445.3" width="8.3" height="7.6" rx="1.6" fill="#222"/>
<rect x="684.4" y="447" width="2.6" height="3.4" rx="0.8" fill="#ddd"/>
<path style="stroke-width:2.07" class="d" d="M698.0 449.3 L689.0 449.3 L689.0 453.5 L698.0 453.5"/>
<path style="stroke-width:2.18;fill:#fff" class="d" d="M684.5 453.6 L697.5 453.6 L697.5 463 L680.4 463 Z"/>
<line style="stroke-width:2.30" class="d" x1="683.0" y1="458" x2="696.0" y2="458"/>
<line style="stroke-width:1.38" class="d" x1="694.0" y1="455.8" x2="686.0" y2="455.8"/>
<line style="stroke-width:1.26" class="d" x1="695.0" y1="460.6" x2="684.0" y2="460.6"/>
<rect style="stroke-width:2.18;fill:#fff" class="d" x="714.0" y="440.3" width="9" height="9"/>
<rect x="723.0" y="445.3" width="8.3" height="7.6" rx="1.6" fill="#222"/>
<rect x="725.0" y="447" width="2.6" height="3.4" rx="0.8" fill="#ddd"/>
<path style="stroke-width:2.07" class="d" d="M714.0 449.3 L723.0 449.3 L723.0 453.5 L714.0 453.5"/>
<path style="stroke-width:2.18;fill:#fff" class="d" d="M727.5 453.6 L714.5 453.6 L714.5 463 L731.6 463 Z"/>
<line style="stroke-width:2.30" class="d" x1="729.0" y1="458" x2="716.0" y2="458"/>
<line style="stroke-width:1.38" class="d" x1="718.0" y1="455.8" x2="726.0" y2="455.8"/>
<line style="stroke-width:1.26" class="d" x1="717.0" y1="460.6" x2="728.0" y2="460.6"/>
<rect style="stroke-width:1.61;fill:#fff" class="d" x="651.6" y="463.3" width="109.2" height="10.4" rx="2.5"/>
<line style="stroke-width:0.80;stroke:#777" class="d" x1="653" y1="466" x2="759" y2="466"/>
<rect style="stroke-width:1.61" class="d" x="639" y="474" width="133.5" height="11.2" rx="1"/>
<line style="stroke-width:1.03" class="d" x1="641.5" y1="474" x2="641.5" y2="485.2"/>
<line style="stroke-width:1.03" class="d" x1="770" y1="474" x2="770" y2="485.2"/>
<rect style="stroke-width:1.61" class="d" x="654.2" y="475.3" width="6" height="5.6" rx="1"/>
<rect style="stroke-width:1.61" class="d" x="750.2" y="475.3" width="6" height="5.6" rx="1"/>
<circle cx="667" cy="480" r="1.5" fill="#2a2a2a"/>
<circle cx="744.4" cy="480" r="1.5" fill="#2a2a2a"/>
<circle cx="679" cy="480" r="1" fill="#2a2a2a"/>
<circle cx="733" cy="480" r="1" fill="#2a2a2a"/>
<rect style="stroke-width:1.38" class="d" x="696" y="475" width="20" height="7" rx="1"/>
<rect style="stroke-width:1.38" class="d" x="700.5" y="477.3" width="11" height="2.6"/>
</g>
</g>
<defs><filter id="soft" x="0" y="0" width="800" height="533" filterUnits="userSpaceOnUse"><feGaussianBlur stdDeviation="0.45"/></filter></defs>
</svg>
</body></html>
